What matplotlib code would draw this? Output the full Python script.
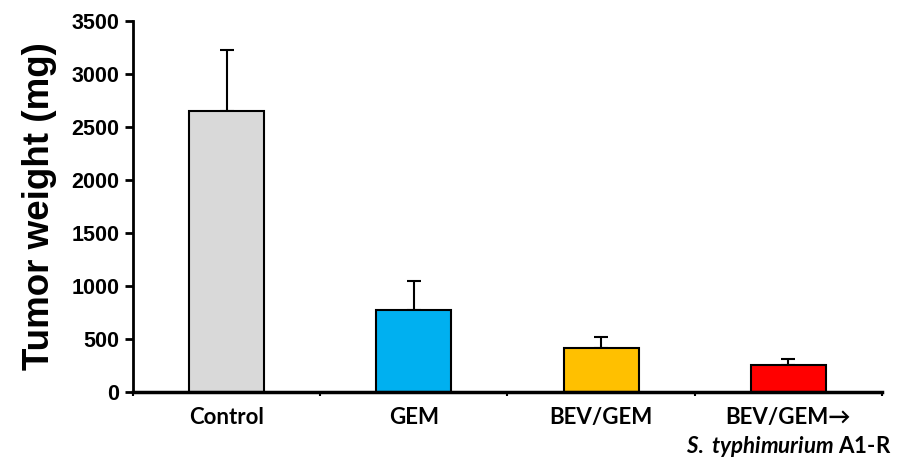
import numpy as np
import matplotlib
matplotlib.use("Agg")
import matplotlib.pyplot as plt

# values (mg)
groups = ["Control", "GEM", "BEV/GEM", "BEV/GEM→\n$\\it{S.}$ $\\it{typhimurium}$ A1-R"]
weights = [2650, 775, 410, 255]
errors = [580, 275, 110, 55]
colors = ["#d9d9d9", "#00b0f0", "#ffc000", "#ff0000"]
yticks = [0, 500, 1000, 1500, 2000, 2500, 3000, 3500]

plt.rcParams['mathtext.fontset'] = 'custom'
plt.rcParams['mathtext.it'] = 'Lato:italic:bold'
plt.rcParams['mathtext.rm'] = 'Lato:bold'

fig = plt.figure(figsize=(8.99, 4.61), dpi=100)
ax = fig.add_axes([0.148, 0.150, 0.833, 0.804])

x = np.arange(len(groups))
ax.bar(x, weights, width=0.4, color=colors, edgecolor="black", linewidth=1.5, zorder=2)
ax.errorbar(x, weights, yerr=[np.zeros(len(errors)), errors], fmt="none",
            ecolor="black", elinewidth=1.5, capsize=5, capthick=1.5, zorder=1)

ax.set_xlim(-0.5, 3.5)
ax.set_ylim(0, 3500)
ax.set_yticks(yticks)
ax.set_yticklabels([str(v) for v in yticks], fontfamily="Liberation Sans",
                   fontweight="bold", fontsize=15.5)
ax.set_xticks(x)
ax.set_xticklabels(groups, fontfamily=["Lato", "DejaVu Sans"], fontweight="bold",
                   fontsize=16, linespacing=1.3)
ax.set_xticks(np.arange(-0.5, 4.0, 1.0), minor=True)
ax.tick_params(axis="x", which="major", length=0, pad=11)
ax.tick_params(axis="x", which="minor", length=3, width=1.5, direction="out")
ax.tick_params(axis="y", length=6, width=2, direction="out", pad=4)

ax.set_ylabel("Tumor weight (mg)", fontfamily="Liberation Sans", fontweight="bold",
              fontsize=26.5, labelpad=10)

for s in ["top", "right"]:
    ax.spines[s].set_visible(False)
ax.spines["left"].set_linewidth(2)
ax.spines["bottom"].set_linewidth(2.5)

fig.savefig("out.png", dpi=100)
